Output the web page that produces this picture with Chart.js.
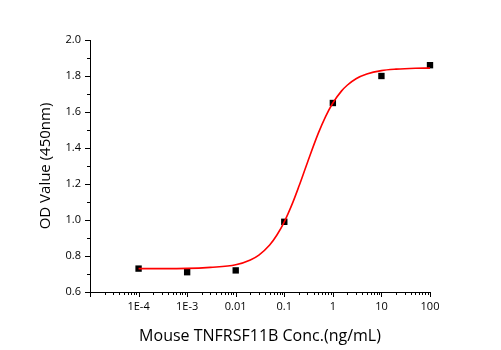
<!DOCTYPE html>
<html>
<head>
<meta charset="utf-8">
<script src="https://cdn.jsdelivr.net/npm/chart.js@4/dist/chart.umd.min.js"></script>
<style>
  html, body { margin: 0; padding: 0; background: #fff; }
  #wrap { width: 501px; height: 350px; }
</style>
</head>
<body>
<div id="wrap"><canvas id="od-chart" width="501" height="350"></canvas></div>
<script>
// measured points
var concentrations = [0.0001, 0.001, 0.01, 0.1, 1, 10, 100];
var odValues = [0.73, 0.71, 0.72, 0.99, 1.65, 1.80, 1.86];

// fitted curve
var curveX = [0.0001, 0.0003, 0.001, 0.003, 0.01, 0.02, 0.03, 0.05, 0.07, 0.1, 0.15, 0.2, 0.3, 0.5, 0.7, 1, 1.5, 2, 3, 5, 10, 20, 50, 100];
var curveY = [0.730, 0.730, 0.731, 0.737, 0.751, 0.778, 0.805, 0.861, 0.915, 0.990, 1.098, 1.187, 1.320, 1.481, 1.572, 1.650, 1.716, 1.750, 1.785, 1.811, 1.830, 1.838, 1.843, 1.844];

// axis ticks
var xTickValues = [0.0001, 0.001, 0.01, 0.1, 1, 10, 100];
var xTickLabels = ['1E-4', '1E-3', '0.01', '0.1', '1', '10', '100'];
var yTickValues = [0.6, 0.8, 1.0, 1.2, 1.4, 1.6, 1.8, 2.0];
var yMinorValues = [0.7, 0.9, 1.1, 1.3, 1.5, 1.7, 1.9];

var fontName = '"Open Sans", "Liberation Sans", sans-serif';

function toPoints(xs, ys) {
    var out = [];
    for (var i = 0; i < xs.length; i++) {
        out.push({x: xs[i], y: ys[i]});
    }
    return out;
}

// tick marks drawn outside the axes, long for majors and short for minors
var tickMarks = {
    id: 'tickMarks',
    afterDraw: function (chart) {
        var ctx = chart.ctx;
        var xs = chart.scales.x;
        var ys = chart.scales.y;
        var area = chart.chartArea;
        ctx.save();
        ctx.strokeStyle = '#000';
        ctx.lineWidth = 1;
        ctx.beginPath();
        yTickValues.forEach(function (v) {
            var py = Math.round(ys.getPixelForValue(v)) + 0.5;
            ctx.moveTo(area.left - 5, py);
            ctx.lineTo(area.left, py);
        });
        yMinorValues.forEach(function (v) {
            var py = Math.round(ys.getPixelForValue(v)) + 0.5;
            ctx.moveTo(area.left - 3, py);
            ctx.lineTo(area.left, py);
        });
        for (var e = -5; e <= 2; e++) {
            for (var k = 1; k <= 9; k++) {
                var v = k * Math.pow(10, e);
                if (v < xs.min * 0.999 || v > xs.max * 1.001) continue;
                var px = Math.round(xs.getPixelForValue(v)) + 0.5;
                var len = (k === 1) ? 5 : 3;
                ctx.moveTo(px, area.bottom);
                ctx.lineTo(px, area.bottom + len);
            }
        }
        ctx.stroke();
        ctx.restore();
    }
};

var ctx = document.getElementById('od-chart').getContext('2d');
var chart = new Chart(ctx, {
    type: 'scatter',
    data: {
        datasets: [
            {
                label: 'fit',
                data: toPoints(curveX, curveY),
                showLine: true,
                borderColor: '#ff0000',
                borderWidth: 1.6,
                pointRadius: 0,
                cubicInterpolationMode: 'monotone',
                fill: false,
                clip: false
            },
            {
                label: 'OD',
                data: toPoints(concentrations, odValues),
                pointStyle: 'rect',
                pointRadius: 4.5,
                backgroundColor: '#000',
                borderColor: '#000',
                borderWidth: 0,
                clip: false
            }
        ]
    },
    plugins: [tickMarks],
    options: {
        responsive: false,
        animation: false,
        layout: {
            padding: {left: 0, right: 71, top: 40, bottom: 0}
        },
        plugins: {
            legend: {display: false},
            tooltip: {enabled: false}
        },
        scales: {
            x: {
                type: 'logarithmic',
                min: 0.00001,
                max: 100,
                afterBuildTicks: function (scale) {
                    scale.ticks = xTickValues.map(function (v) { return {value: v}; });
                },
                afterFit: function (scale) {
                    scale.height = 58;
                },
                grid: {display: false, drawTicks: false},
                border: {display: true, color: '#000', width: 1},
                ticks: {
                    color: '#000',
                    padding: 8,
                    maxRotation: 0,
                    autoSkip: false,
                    font: {family: fontName, size: 11},
                    callback: function (value) {
                        var i = xTickValues.indexOf(value);
                        return i >= 0 ? xTickLabels[i] : '';
                    }
                },
                title: {
                    display: true,
                    text: 'Mouse TNFRSF11B Conc.(ng/mL)',
                    color: '#000',
                    font: {family: fontName, size: 16},
                    padding: {top: 2, bottom: 4}
                }
            },
            y: {
                min: 0.6,
                max: 2.0,
                afterBuildTicks: function (scale) {
                    scale.ticks = yTickValues.map(function (v) { return {value: v}; });
                },
                afterFit: function (scale) {
                    scale.width = 90;
                },
                grid: {display: false, drawTicks: false},
                border: {display: true, color: '#000', width: 1},
                ticks: {
                    color: '#000',
                    padding: 9,
                    font: {family: fontName, size: 11},
                    callback: function (value) {
                        return Number(value).toFixed(1);
                    }
                },
                title: {
                    display: true,
                    text: 'OD Value (450nm)',
                    color: '#000',
                    font: {family: fontName, size: 15},
                    padding: {top: 37, bottom: 0}
                }
            }
        }
    }
});
</script>
</body>
</html>
